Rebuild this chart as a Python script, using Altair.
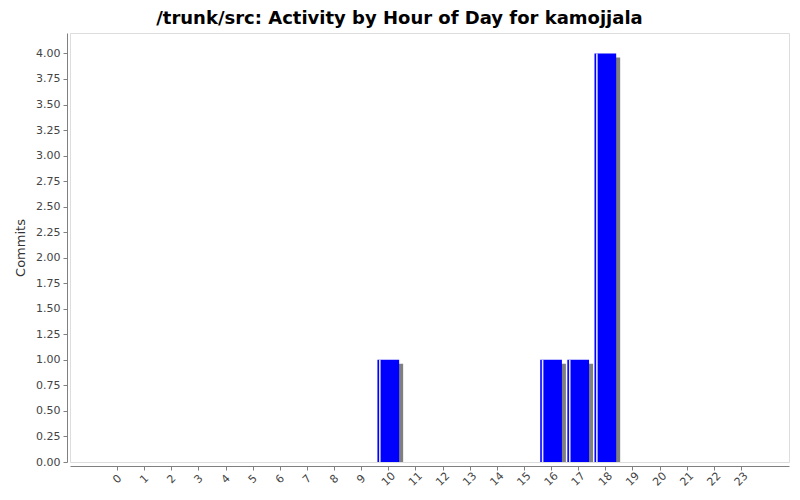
import altair as alt
import pandas as pd

hours = list(range(24))
commits = [0, 0, 0, 0, 0, 0, 0, 0, 0, 0, 1, 0, 0, 0, 0, 0, 1, 1, 4, 0, 0, 0, 0, 0]
y_ticks = [i * 0.25 for i in range(17)]
title_text = "/trunk/src: Activity by Hour of Day for kamojjala"

df = pd.DataFrame({"hour": hours, "commits": commits})

x_scale = alt.Scale(domain=[-1.732, 24.77], nice=False, zero=False)
x_axis = alt.Axis(
    title=None,
    values=hours,
    format="d",
    labelAngle=315,
    labelAlign="center",
    labelBaseline="middle",
    labelPadding=9,
    labelFlush=False,
    labelOverlap=False,
    offset=4,
    tickSize=4,
    domainColor="#808080",
    tickColor="#808080",
    labelColor="#444444",
    labelFontSize=11,
    labelFont="DejaVu Sans",
    grid=False,
)
y_enc = alt.Y(
    "commits:Q",
    scale=alt.Scale(domain=[0, 4.2], nice=False, zero=True),
    axis=alt.Axis(
        title="Commits",
        values=y_ticks,
        format=".2f",
        offset=3,
        tickSize=4,
        labelPadding=3,
        domainColor="#808080",
        tickColor="#808080",
        labelColor="#444444",
        labelFontSize=11,
        labelFont="DejaVu Sans",
        titleFont="DejaVu Sans",
        titleFontSize=13,
        titleFontWeight="normal",
        titleColor="#333333",
        titlePadding=8,
        grid=False,
    ),
)

base = (
    alt.Chart(df)
    .transform_filter("datum.commits > 0")
    .transform_calculate(x0="datum.hour - 0.4", x1="datum.hour + 0.4")
)

x0 = alt.X("x0:Q", scale=x_scale, axis=x_axis)
shadow = base.mark_bar(color="#808080", xOffset=4, x2Offset=4, yOffset=4).encode(
    x=x0, x2="x1:Q", y=y_enc, y2=alt.datum(0)
)
bars = base.mark_bar(color="#0000ff").encode(x=x0, x2="x1:Q", y=y_enc, y2=alt.datum(0))
stripe = base.mark_rule(color="#e6e6ff", strokeWidth=1.6, xOffset=2.4).encode(
    x=x0, y=y_enc, y2=alt.datum(0)
)

chart = (
    alt.layer(shadow, bars, stripe)
    .properties(
        width=719,
        height=429,
        padding={"left": 62, "top": 25, "right": 3, "bottom": 30},
        autosize=alt.AutoSizeParams(type="none"),
        title=alt.TitleParams(
            text=title_text,
            font="DejaVu Sans",
            fontSize=18,
            fontWeight="bold",
            color="#000000",
            anchor="middle",
            frame="group",
            dx=-30,
            offset=5,
        ),
    )
    .configure_view(stroke="#808080", strokeWidth=1)
    .configure(background="white")
)

chart.save("out.html", embed_options={"renderer": "svg", "actions": False})
